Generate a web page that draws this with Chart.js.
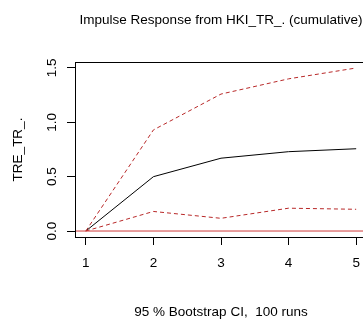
<!DOCTYPE html>
<html>
<head>
<meta charset="utf-8">
<script src="https://cdn.jsdelivr.net/npm/chart.js@4/dist/chart.umd.min.js"></script>
<style>
  html, body { margin: 0; padding: 0; background: #fff; }
  body { width: 363px; height: 320px; overflow: hidden; }
  #wrap { width: 442px; height: 320px; }
</style>
</head>
<body>
<div id="wrap"><canvas id="irf" width="442" height="320"></canvas></div>
<script>
const steps = [1, 2, 3, 4, 5];
const irf = [0, 0.50, 0.67, 0.73, 0.757];
const upper = [0, 0.93, 1.26, 1.40, 1.50];
const lower = [0, 0.18, 0.117, 0.21, 0.20];
const yTicks = [0, 0.5, 1.0, 1.5];
const yLabels = ["0.0", "0.5", "1.0", "1.5"];

const FONT = "'Liberation Sans', Arial, sans-serif";
const pts = (ys) => steps.map((x, i) => ({ x, y: ys[i] }));

// top/right sides of the box plus rotated y tick labels (R style)
const boxPlugin = {
  id: "box",
  afterDraw(chart) {
    const { ctx, chartArea: a, scales } = chart;
    ctx.save();
    ctx.strokeStyle = "#000";
    ctx.lineWidth = 1;
    ctx.strokeRect(Math.round(a.left) + 0.5, Math.round(a.top) + 0.5, Math.round(a.right - a.left), Math.round(a.bottom - a.top));
    ctx.fillStyle = "#000";
    ctx.font = "13.5px " + FONT;
    ctx.textAlign = "center";
    ctx.textBaseline = "middle";
    yTicks.forEach((v, i) => {
      const y = scales.y.getPixelForValue(v);
      ctx.save();
      ctx.translate(52, y);
      ctx.rotate(-Math.PI / 2);
      ctx.fillText(yLabels[i], 0, 0);
      ctx.restore();
    });
    ctx.restore();
  },
};

new Chart(document.getElementById("irf"), {
  type: "line",
  data: {
    datasets: [
      { data: [{ x: 0.84, y: 0 }, { x: 5.16, y: 0 }], borderColor: "#d03a3a", borderWidth: 1, pointRadius: 0 },
      { data: pts(upper), borderColor: "#b82828", borderWidth: 1, borderDash: [4, 3], pointRadius: 0 },
      { data: pts(lower), borderColor: "#b82828", borderWidth: 1, borderDash: [4, 3], pointRadius: 0 },
      { data: pts(irf), borderColor: "#000", borderWidth: 1, pointRadius: 0 },
    ],
  },
  options: {
    responsive: false,
    animation: false,
    layout: { padding: 0 },
    plugins: {
      legend: { display: false },
      tooltip: { enabled: false },
      title: {
        display: true,
        text: "Impulse Response from HKI_TR_. (cumulative)",
        color: "#000",
        font: { family: FONT, size: 13.5, weight: "normal" },
        padding: { top: 12.4, bottom: 33.4 },
      },
    },
    scales: {
      x: {
        type: "linear",
        min: 0.84,
        max: 5.16,
        afterBuildTicks: (s) => { s.ticks = steps.map((v) => ({ value: v })); },
        afterFit: (s) => { s.height = 83; },
        grid: { drawOnChartArea: false, drawTicks: true, tickLength: 8, color: "#000" },
        border: { display: true, color: "#000" },
        ticks: { color: "#000", padding: 10, font: { family: FONT, size: 13.5 }, maxRotation: 0 },
        title: {
          display: true,
          text: "95 % Bootstrap CI,  100 runs",
          color: "#000",
          font: { family: FONT, size: 13.5 },
          padding: { top: 0, bottom: 0 },
        },
      },
      y: {
        type: "linear",
        min: -0.055,
        max: 1.555,
        afterBuildTicks: (s) => { s.ticks = yTicks.map((v) => ({ value: v })); },
        afterFit: (s) => { s.width = 75; },
        grid: { drawOnChartArea: false, drawTicks: true, tickLength: 8, color: "#000" },
        border: { display: true, color: "#000" },
        ticks: { display: false },
        title: {
          display: true,
          text: "TRE_TR_.",
          color: "#000",
          font: { family: FONT, size: 13.5 },
          padding: { top: 10, bottom: 0 },
        },
      },
      // empty right margin so the title centres over the plot box
      yRight: {
        type: "linear",
        position: "right",
        min: -0.055,
        max: 1.555,
        afterFit: (s) => { s.width = 75; },
        grid: { display: false },
        border: { display: false },
        ticks: { display: false },
      },
    },
  },
  plugins: [boxPlugin],
});
</script>
</body>
</html>
